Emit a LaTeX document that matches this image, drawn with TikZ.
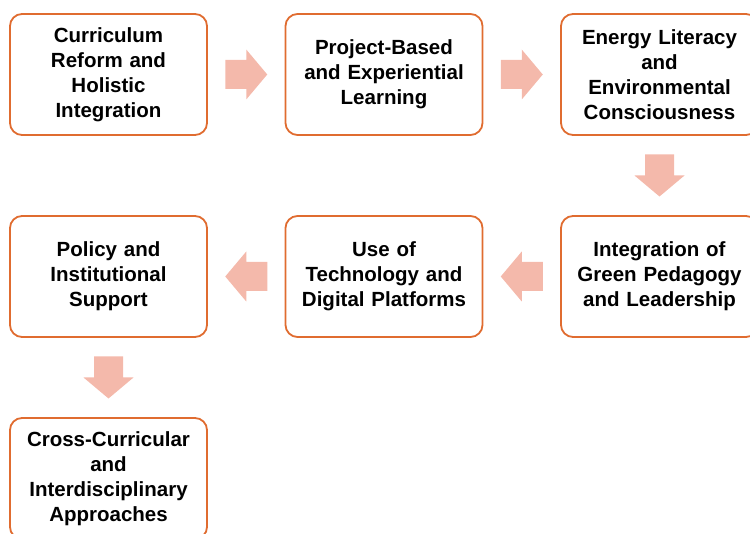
\documentclass[tikz,border=0pt]{standalone}
\usepackage{fontspec}
\setmainfont{Liberation Sans}
\usetikzlibrary{calc}
\definecolor{boxline}{HTML}{E06C30}
\definecolor{arrowfill}{HTML}{F4B9AB}
\tikzset{
  stage/.style={draw=boxline, line width=1.8pt, rounded corners=12pt, fill=white,
    minimum width=197pt, minimum height=121pt, text width=190pt, align=center,
    inner sep=0pt, font=\bfseries\fontsize{20.5}{25}\selectfont},
  blockarrow/.pic={
    \fill[arrowfill] (-21,-14.5) -- (0,-14.5) -- (0,-25) -- (21,0) -- (0,25) -- (0,14.5) -- (-21,14.5) -- cycle;
  }
}
\begin{document}
\begin{tikzpicture}[x=1pt, y=-1pt]
  \useasboundingbox (0,0) rectangle (750,534);
  % first row
  \node[stage] (s1) at (108.5,74.5) {Curriculum\\Reform and\\Holistic\\Integration};
  \node[stage] (s2) at (384,74.5) {Project-Based\\and Experiential\\Learning};
  \node[stage] (s3) at (659.5,74.5) {Energy Literacy\\and\\Environmental\\Consciousness};
  % second row
  \node[stage] (s4) at (659.5,276.5) {Integration of\\Green Pedagogy\\and Leadership};
  \node[stage] (s5) at (384,276.5) {Use of\\Technology and\\Digital Platforms};
  \node[stage] (s6) at (108.5,276.5) {Policy and\\Institutional\\Support};
  % last row
  \node[stage] (s7) at (108.5,478.5) {Cross-Curricular\\and\\Interdisciplinary\\Approaches};
  % block arrows between stages
  \pic at ($(s1.east)!0.5!(s2.west)$) {blockarrow};
  \pic at ($(s2.east)!0.5!(s3.west)$) {blockarrow};
  \pic[rotate=-90] at ($(s3.south)!0.5!(s4.north)$) {blockarrow};
  \pic[rotate=180] at ($(s4.west)!0.5!(s5.east)$) {blockarrow};
  \pic[rotate=180] at ($(s5.west)!0.5!(s6.east)$) {blockarrow};
  \pic[rotate=-90] at ($(s6.south)!0.5!(s7.north)$) {blockarrow};
\end{tikzpicture}
\end{document}
